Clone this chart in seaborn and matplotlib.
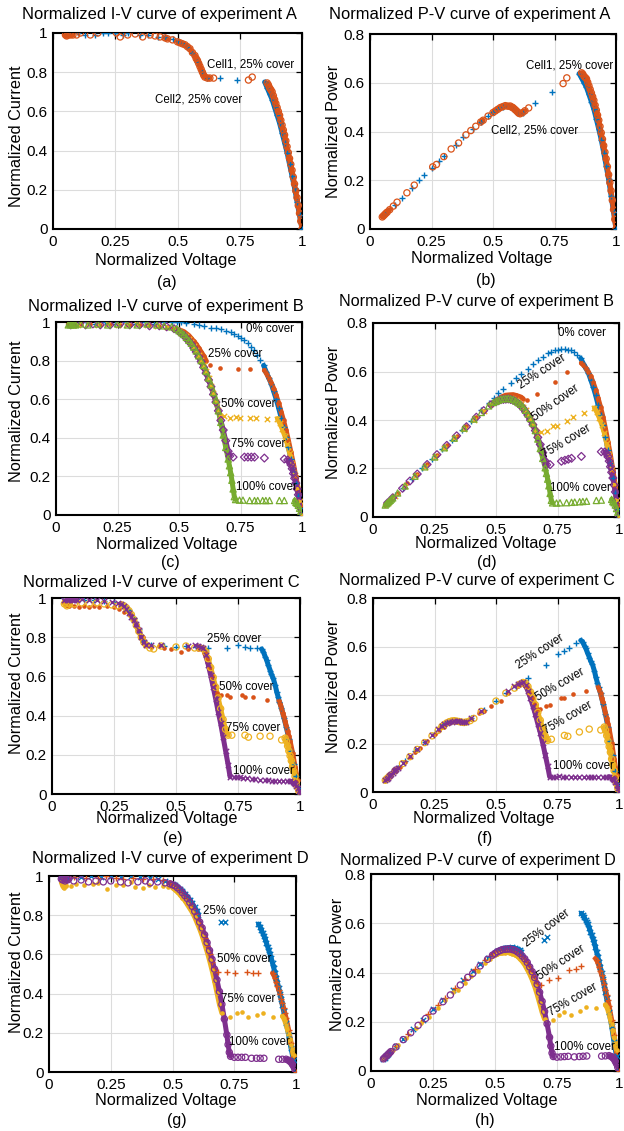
import matplotlib
matplotlib.use("Agg")
import matplotlib.pyplot as plt
import pandas as pd
import seaborn as sns

# ---------------------------------------------------------------- data
# Experiment A
A_cell1_v = [0.06, 0.10, 0.13, 0.17, 0.20, 0.22, 0.25, 0.28, 0.30, 0.35, 0.38, 0.42, 0.45, 0.48, 0.50, 0.52, 0.54, 0.56, 0.58, 0.60,
             0.62, 0.67, 0.74, 0.85, 0.86, 0.87, 0.88, 0.89, 0.90, 0.91, 0.92, 0.93, 0.94, 0.95, 0.96, 0.97, 0.98, 0.99, 1.00]
A_cell1_i = [1.00, 1.00, 0.99, 0.99, 1.00, 1.00, 1.00, 0.99, 1.00, 0.99, 0.99, 0.98, 0.98, 0.97, 0.96, 0.95, 0.93, 0.90, 0.85, 0.80,
             0.77, 0.77, 0.76, 0.75, 0.72, 0.69, 0.66, 0.62, 0.58, 0.54, 0.49, 0.44, 0.39, 0.33, 0.27, 0.21, 0.14, 0.07, 0.00]
A_cell2_v = [0.050, 0.055, 0.060, 0.065, 0.070, 0.080, 0.095, 0.110, 0.150, 0.180, 0.255, 0.270, 0.300, 0.330, 0.360, 0.390,
             0.410, 0.430, 0.450, 0.460, 0.480, 0.500, 0.510, 0.520, 0.530, 0.540, 0.550, 0.560, 0.570, 0.575, 0.580, 0.585,
             0.590, 0.595, 0.600, 0.605, 0.610, 0.620, 0.630, 0.645, 0.785, 0.800, 0.860, 0.865, 0.870, 0.875, 0.880, 0.885,
             0.890, 0.895, 0.900, 0.905, 0.910, 0.915, 0.920, 0.925, 0.930, 0.935, 0.940, 0.945, 0.950, 0.955, 0.960, 0.965,
             0.970, 0.975, 0.980, 0.985, 0.990, 0.995, 1.000]
A_cell2_i = [0.99, 0.985, 0.99, 0.995, 0.99, 0.99, 0.99, 1.00, 0.99, 1.00, 1.00, 0.98, 0.99, 0.995, 0.98, 0.99,
             0.985, 0.98, 0.975, 0.97, 0.965, 0.955, 0.95, 0.945, 0.94, 0.93, 0.92, 0.90, 0.885, 0.87, 0.86, 0.845,
             0.83, 0.815, 0.80, 0.785, 0.775, 0.77, 0.77, 0.77, 0.76, 0.775, 0.745, 0.735, 0.72, 0.71, 0.70, 0.68,
             0.66, 0.64, 0.62, 0.60, 0.58, 0.555, 0.53, 0.505, 0.48, 0.45, 0.42, 0.39, 0.36, 0.33, 0.30, 0.265,
             0.23, 0.195, 0.16, 0.12, 0.08, 0.04, 0.00]

# Experiment B
B_0_v = [0.06, 0.09, 0.12, 0.16, 0.20, 0.24, 0.28, 0.32, 0.36, 0.40, 0.44, 0.47, 0.49, 0.51, 0.53, 0.56, 0.58, 0.60, 0.63, 0.65,
         0.67, 0.69, 0.71, 0.725, 0.74, 0.753, 0.766, 0.779, 0.792, 0.805, 0.818, 0.831, 0.844, 0.855, 0.865, 0.875, 0.885,
         0.895, 0.905, 0.915, 0.925, 0.935, 0.945, 0.955, 0.965, 0.975, 0.985, 0.995, 1.0]
B_0_i = [1.00, 0.99, 1.00, 0.99, 1.00, 0.99, 1.00, 0.99, 1.00, 0.99, 1.00, 1.00, 1.00, 1.00, 0.995, 0.99, 0.985, 0.98, 0.97, 0.97,
         0.965, 0.955, 0.95, 0.94, 0.93, 0.915, 0.905, 0.89, 0.87, 0.855, 0.83, 0.805, 0.775, 0.74, 0.71, 0.68, 0.64,
         0.60, 0.555, 0.505, 0.455, 0.405, 0.35, 0.29, 0.23, 0.165, 0.10, 0.035, 0.0]
B_25_v = [0.05, 0.055, 0.06, 0.065, 0.07, 0.10, 0.14, 0.18, 0.22, 0.26, 0.30, 0.34, 0.38, 0.42, 0.45, 0.475, 0.49, 0.50, 0.51, 0.52,
          0.53, 0.54, 0.55, 0.56, 0.57, 0.58, 0.59, 0.60, 0.61, 0.624, 0.665, 0.739, 0.79, 0.847, 0.855, 0.865, 0.875, 0.885,
          0.895, 0.905, 0.915, 0.925, 0.935, 0.945, 0.955, 0.965, 0.975, 0.985, 0.995, 1.0]
B_25_i = [0.99, 0.985, 0.99, 0.99, 0.985, 0.99, 0.99, 0.985, 0.99, 0.985, 0.985, 0.985, 0.985, 0.98, 0.975, 0.97, 0.965, 0.96, 0.955, 0.95,
          0.94, 0.93, 0.915, 0.90, 0.885, 0.865, 0.845, 0.825, 0.80, 0.776, 0.76, 0.755, 0.755, 0.75, 0.735, 0.71, 0.685, 0.655,
          0.62, 0.58, 0.535, 0.49, 0.44, 0.385, 0.325, 0.265, 0.20, 0.13, 0.05, 0.0]
B_50_v = [0.06, 0.09, 0.13, 0.17, 0.21, 0.25, 0.29, 0.33, 0.37, 0.41, 0.45, 0.48, 0.50, 0.51, 0.52, 0.53, 0.54, 0.55, 0.56, 0.57,
          0.58, 0.59, 0.60, 0.61, 0.62, 0.63, 0.64, 0.65, 0.66, 0.668, 0.682, 0.706, 0.733, 0.746, 0.787, 0.814, 0.857, 0.90,
          0.91, 0.92, 0.93, 0.94, 0.95, 0.96, 0.97, 0.98, 0.99, 1.0]
B_50_i = [0.99, 0.985, 0.99, 0.985, 0.99, 0.985, 0.985, 0.99, 0.985, 0.98, 0.975, 0.97, 0.955, 0.945, 0.935, 0.925, 0.91, 0.895, 0.875, 0.855,
          0.83, 0.805, 0.775, 0.745, 0.71, 0.67, 0.63, 0.585, 0.545, 0.515, 0.514, 0.505, 0.51, 0.505, 0.505, 0.505, 0.50, 0.50,
          0.475, 0.445, 0.41, 0.37, 0.32, 0.265, 0.205, 0.14, 0.07, 0.0]
B_75_v = [0.06, 0.08, 0.12, 0.15, 0.18, 0.22, 0.26, 0.30, 0.34, 0.38, 0.42, 0.45, 0.48, 0.50, 0.51, 0.52, 0.53, 0.54, 0.55, 0.56,
          0.57, 0.58, 0.59, 0.60, 0.61, 0.62, 0.63, 0.64, 0.65, 0.66, 0.67, 0.68, 0.69, 0.70, 0.706, 0.72, 0.766, 0.78, 0.794,
          0.807, 0.847, 0.928, 0.942, 0.95, 0.955, 0.96, 0.965, 0.97, 0.975, 0.98, 0.985, 0.99, 0.995, 1.0]
B_75_i = [0.985, 0.99, 0.985, 0.99, 0.985, 0.985, 0.99, 0.985, 0.985, 0.98, 0.98, 0.975, 0.965, 0.95, 0.94, 0.93, 0.915, 0.90, 0.885, 0.865,
          0.845, 0.82, 0.795, 0.765, 0.735, 0.70, 0.665, 0.625, 0.585, 0.54, 0.49, 0.44, 0.385, 0.33, 0.305, 0.30, 0.30, 0.30, 0.30,
          0.30, 0.295, 0.29, 0.285, 0.275, 0.26, 0.24, 0.215, 0.19, 0.165, 0.135, 0.105, 0.07, 0.035, 0.0]
B_100_v = [0.05, 0.055, 0.06, 0.065, 0.07, 0.075, 0.08, 0.10, 0.13, 0.17, 0.21, 0.25, 0.29, 0.33, 0.37, 0.41, 0.44, 0.47,
           0.49, 0.50, 0.51, 0.52, 0.53, 0.54, 0.55, 0.56, 0.57, 0.58, 0.59, 0.60, 0.61, 0.62, 0.63, 0.64, 0.65, 0.66, 0.67,
           0.68, 0.69, 0.70, 0.705, 0.71, 0.715, 0.72, 0.725, 0.73, 0.746, 0.76, 0.787, 0.807, 0.82, 0.84, 0.853, 0.868,
           0.908, 0.928, 0.97, 0.975, 0.98, 0.985, 0.99, 0.995, 1.0]
B_100_i = [0.985, 0.99, 0.985, 0.99, 0.985, 0.99, 0.985, 0.99, 0.985, 0.99, 0.985, 0.99, 0.985, 0.985, 0.99, 0.985, 0.98, 0.975,
           0.965, 0.955, 0.945, 0.935, 0.92, 0.905, 0.89, 0.87, 0.85, 0.825, 0.80, 0.775, 0.745, 0.71, 0.675, 0.635, 0.595, 0.54, 0.48,
           0.415, 0.35, 0.29, 0.255, 0.22, 0.18, 0.135, 0.095, 0.08, 0.077, 0.077, 0.075, 0.075, 0.075, 0.075, 0.075, 0.075,
           0.075, 0.075, 0.075, 0.065, 0.06, 0.05, 0.035, 0.02, 0.0]

# Experiment C
C_25_v = [0.05, 0.055, 0.06, 0.065, 0.07, 0.10, 0.13, 0.17, 0.21, 0.25, 0.29, 0.31, 0.33, 0.35, 0.37, 0.40, 0.45, 0.50, 0.54, 0.58,
          0.63, 0.704, 0.751, 0.778, 0.798, 0.825, 0.845, 0.852, 0.86, 0.865, 0.872, 0.88, 0.885, 0.892, 0.90, 0.906, 0.912,
          0.917, 0.925, 0.935, 0.945, 0.955, 0.965, 0.975, 0.985, 0.995, 1.0]
C_25_i = [1.0, 0.99, 1.0, 0.99, 1.0, 0.995, 0.99, 0.99, 0.985, 0.98, 0.965, 0.94, 0.90, 0.84, 0.78, 0.76, 0.755, 0.75, 0.755, 0.75,
          0.743, 0.743, 0.76, 0.75, 0.743, 0.743, 0.74, 0.726, 0.70, 0.685, 0.658, 0.63, 0.61, 0.59, 0.555, 0.522, 0.495,
          0.471, 0.44, 0.39, 0.34, 0.28, 0.22, 0.155, 0.09, 0.03, 0.0]
C_50_v = [0.05, 0.055, 0.06, 0.065, 0.07, 0.09, 0.11, 0.13, 0.15, 0.17, 0.19, 0.22, 0.25, 0.27, 0.29, 0.31, 0.33, 0.35, 0.365, 0.38,
          0.40, 0.43, 0.45, 0.48, 0.52, 0.55, 0.59, 0.615, 0.625, 0.635, 0.645, 0.655, 0.665, 0.68, 0.704, 0.718, 0.765, 0.778,
          0.812, 0.866, 0.915, 0.92, 0.925, 0.93, 0.935, 0.94, 0.945, 0.95, 0.955, 0.96, 0.97, 0.98, 0.99, 1.0]
C_50_i = [0.98, 0.97, 0.965, 0.97, 0.96, 0.96, 0.955, 0.96, 0.955, 0.96, 0.955, 0.96, 0.955, 0.945, 0.93, 0.92, 0.89, 0.84, 0.80, 0.76,
          0.75, 0.755, 0.745, 0.74, 0.725, 0.74, 0.74, 0.72, 0.69, 0.645, 0.60, 0.555, 0.515, 0.505, 0.505, 0.497, 0.505, 0.497,
          0.497, 0.48, 0.475, 0.46, 0.44, 0.415, 0.395, 0.37, 0.345, 0.32, 0.295, 0.27, 0.21, 0.14, 0.07, 0.0]
C_75_v = [0.05, 0.055, 0.06, 0.065, 0.07, 0.09, 0.12, 0.15, 0.18, 0.21, 0.24, 0.265, 0.28, 0.29, 0.30, 0.31, 0.32, 0.33, 0.34, 0.35,
          0.36, 0.37, 0.38, 0.395, 0.41, 0.44, 0.50, 0.54, 0.575, 0.595, 0.61, 0.62, 0.63, 0.64, 0.65, 0.66, 0.67, 0.68, 0.69, 0.70,
          0.71, 0.725, 0.778, 0.792, 0.839, 0.879, 0.926, 0.94, 0.945, 0.95, 0.955, 0.96, 0.965, 0.97, 0.975, 0.98, 0.985, 0.99,
          0.995, 1.0]
C_75_i = [0.97, 0.98, 0.96, 0.975, 0.97, 0.97, 0.975, 0.97, 0.975, 0.97, 0.965, 0.96, 0.965, 0.96, 0.95, 0.935, 0.915, 0.89, 0.86, 0.83,
          0.80, 0.775, 0.76, 0.745, 0.74, 0.755, 0.75, 0.755, 0.745, 0.745, 0.74, 0.725, 0.69, 0.645, 0.595, 0.545, 0.49, 0.435, 0.38, 0.33,
          0.30, 0.30, 0.30, 0.29, 0.295, 0.295, 0.276, 0.285, 0.27, 0.245, 0.22, 0.195, 0.17, 0.14, 0.115, 0.09, 0.06, 0.035,
          0.015, 0.0]
C_100_v = [0.05, 0.055, 0.06, 0.065, 0.07, 0.075, 0.08, 0.085, 0.09, 0.095, 0.10, 0.12, 0.15, 0.18, 0.21, 0.24, 0.265, 0.28, 0.29, 0.30,
           0.31, 0.32, 0.33, 0.34, 0.35, 0.36, 0.37, 0.38, 0.40, 0.44, 0.55, 0.575, 0.59, 0.60, 0.61, 0.62, 0.63, 0.64, 0.65, 0.66,
           0.67, 0.68, 0.69, 0.70, 0.71, 0.718, 0.732, 0.745, 0.758, 0.772, 0.785, 0.805, 0.82, 0.839, 0.859, 0.872, 0.886, 0.90,
           0.914, 0.933, 0.947, 0.96, 0.97, 0.975, 0.98, 0.985, 0.99, 0.995, 1.0]
C_100_i = [0.99, 1.0, 0.99, 1.0, 0.99, 0.995, 0.99, 0.995, 0.99, 0.995, 0.99, 0.995, 0.99, 0.99, 0.985, 0.98, 0.975, 0.97, 0.96, 0.945,
           0.925, 0.905, 0.89, 0.865, 0.835, 0.80, 0.775, 0.76, 0.76, 0.76, 0.755, 0.76, 0.755, 0.75, 0.745, 0.71, 0.66, 0.605, 0.545, 0.485,
           0.42, 0.36, 0.29, 0.22, 0.15, 0.088, 0.085, 0.085, 0.085, 0.08, 0.08, 0.077, 0.075, 0.073, 0.073, 0.07, 0.068, 0.068,
           0.068, 0.068, 0.066, 0.066, 0.06, 0.055, 0.05, 0.04, 0.03, 0.015, 0.0]

# Experiment D
D_25_v = [0.05, 0.055, 0.06, 0.065, 0.07, 0.10, 0.13, 0.17, 0.21, 0.25, 0.29, 0.33, 0.37, 0.41, 0.44, 0.47, 0.50, 0.51, 0.52, 0.53,
          0.54, 0.55, 0.56, 0.57, 0.58, 0.59, 0.60, 0.605, 0.697, 0.711, 0.848, 0.855, 0.86, 0.865, 0.87, 0.875, 0.88, 0.885, 0.89,
          0.895, 0.90, 0.905, 0.91, 0.915, 0.92, 0.925, 0.93, 0.935, 0.94, 0.945, 0.95, 0.96, 0.97, 0.98, 0.99, 1.0]
D_25_i = [1.0, 0.995, 1.0, 0.995, 1.0, 1.0, 0.995, 1.0, 0.995, 1.0, 0.995, 1.0, 0.995, 0.99, 0.985, 0.975, 0.96, 0.955, 0.945, 0.935,
          0.925, 0.91, 0.895, 0.88, 0.86, 0.84, 0.82, 0.80, 0.763, 0.765, 0.755, 0.74, 0.725, 0.71, 0.695, 0.68, 0.66, 0.64, 0.62,
          0.60, 0.58, 0.555, 0.53, 0.505, 0.48, 0.455, 0.43, 0.40, 0.37, 0.34, 0.31, 0.25, 0.19, 0.12, 0.06, 0.0]
D_50_v = [0.06, 0.10, 0.15, 0.20, 0.23, 0.27, 0.30, 0.34, 0.38, 0.42, 0.46, 0.49, 0.50, 0.51, 0.52, 0.53, 0.54, 0.55, 0.56, 0.57,
          0.58, 0.59, 0.60, 0.61, 0.62, 0.63, 0.64, 0.65, 0.66, 0.67, 0.685, 0.719, 0.753, 0.80, 0.827, 0.847, 0.905, 0.91, 0.915,
          0.92, 0.925, 0.93, 0.935, 0.94, 0.945, 0.95, 0.955, 0.96, 0.97, 0.98, 0.99, 1.0]
D_50_i = [0.99, 0.995, 0.99, 0.99, 1.0, 0.99, 0.985, 0.99, 0.985, 0.985, 0.98, 0.965, 0.955, 0.945, 0.935, 0.92, 0.905, 0.89, 0.87, 0.85,
          0.83, 0.805, 0.78, 0.75, 0.72, 0.685, 0.645, 0.60, 0.56, 0.52, 0.51, 0.512, 0.503, 0.512, 0.503, 0.503, 0.505, 0.495, 0.48,
          0.46, 0.44, 0.42, 0.40, 0.375, 0.35, 0.325, 0.30, 0.275, 0.215, 0.15, 0.08, 0.0]
D_75_v = [0.05, 0.055, 0.06, 0.065, 0.07, 0.09, 0.11, 0.14, 0.18, 0.20, 0.235, 0.27, 0.30, 0.33, 0.35, 0.38, 0.405, 0.43, 0.46, 0.48,
          0.50, 0.51, 0.52, 0.53, 0.54, 0.55, 0.56, 0.57, 0.58, 0.59, 0.60, 0.61, 0.62, 0.63, 0.64, 0.65, 0.66, 0.67, 0.68, 0.69,
          0.70, 0.733, 0.76, 0.78, 0.807, 0.841, 0.868, 0.908, 0.945, 0.95, 0.955, 0.96, 0.965, 0.97, 0.975, 0.98, 0.985, 0.99]
D_75_i = [0.97, 0.95, 0.94, 0.96, 0.95, 0.95, 0.96, 0.955, 0.96, 0.965, 0.935, 0.955, 0.955, 0.97, 0.945, 0.94, 0.955, 0.945, 0.95, 0.945,
          0.94, 0.93, 0.92, 0.905, 0.89, 0.875, 0.855, 0.835, 0.815, 0.79, 0.76, 0.73, 0.695, 0.655, 0.615, 0.57, 0.52, 0.465, 0.405, 0.345,
          0.30, 0.282, 0.299, 0.308, 0.282, 0.29, 0.299, 0.282, 0.285, 0.275, 0.26, 0.24, 0.22, 0.195, 0.17, 0.14, 0.115, 0.085]
D_100_v = [0.05, 0.055, 0.06, 0.065, 0.07, 0.075, 0.08, 0.10, 0.13, 0.16, 0.19, 0.22, 0.25, 0.29, 0.32, 0.36, 0.39, 0.41, 0.44, 0.47,
           0.49, 0.50, 0.51, 0.52, 0.53, 0.54, 0.55, 0.56, 0.57, 0.58, 0.59, 0.60, 0.61, 0.62, 0.63, 0.64, 0.65, 0.66, 0.67, 0.68,
           0.69, 0.70, 0.71, 0.72, 0.725, 0.73, 0.735, 0.75, 0.765, 0.78, 0.795, 0.82, 0.84, 0.855, 0.87, 0.93, 0.945, 0.96, 0.97,
           0.975, 0.98, 0.985, 0.99, 0.995, 1.0]
D_100_i = [0.985, 0.98, 0.99, 0.975, 0.985, 0.98, 0.985, 0.975, 0.98, 0.97, 0.975, 0.97, 0.975, 0.97, 0.965, 0.97, 0.975, 0.965, 0.97, 0.965,
           0.96, 0.955, 0.95, 0.94, 0.93, 0.915, 0.90, 0.885, 0.865, 0.845, 0.82, 0.795, 0.765, 0.735, 0.70, 0.66, 0.62, 0.575, 0.525, 0.47,
           0.41, 0.345, 0.27, 0.19, 0.14, 0.10, 0.08, 0.075, 0.075, 0.075, 0.075, 0.07, 0.07, 0.07, 0.07, 0.065, 0.065, 0.065, 0.06,
           0.055, 0.05, 0.04, 0.03, 0.015, 0.0]

X_TICKS = [0, 0.25, 0.5, 0.75, 1]
X_TICK_LABELS = ["0", "0.25", "0.5", "0.75", "1"]
IV_TICKS = [0, 0.2, 0.4, 0.6, 0.8, 1]
IV_TICK_LABELS = ["0", "0.2", "0.4", "0.6", "0.8", "1"]
PV_TICKS = [0, 0.2, 0.4, 0.6, 0.8]
PV_TICK_LABELS = ["0", "0.2", "0.4", "0.6", "0.8"]

# ---------------------------------------------------------------- style
BLUE, ORANGE, YELLOW, PURPLE, GREEN = "#0072BD", "#D95319", "#EDB120", "#7E2F8E", "#77AC30"

sns.set_theme(style="white", rc={"text.color": "black", "axes.labelcolor": "black",
                                 "xtick.color": "black", "ytick.color": "black",
                                 "axes.edgecolor": "black"})
plt.rcParams["font.family"] = ["Liberation Sans", "DejaVu Sans"]

MARKERS = {
    "plus": dict(marker="+", s=24, hollow=False, lw=1.0),
    "x": dict(marker="x", s=15, hollow=False, lw=1.0),
    "circle": dict(marker="o", s=20, hollow=True, lw=0.9),
    "dot": dict(marker="o", s=11, hollow=False, lw=0.0),
    "diamond": dict(marker="D", s=16, hollow=True, lw=0.9),
    "tri": dict(marker="^", s=20, hollow=True, lw=0.9),
}
GAP = 0.012      # consecutive samples closer than this form a dense band
BAND_LW = 3.6

EXPERIMENTS = {
    "A": [(A_cell1_v, A_cell1_i, BLUE, "plus"), (A_cell2_v, A_cell2_i, ORANGE, "circle")],
    "B": [(B_0_v, B_0_i, BLUE, "plus"), (B_25_v, B_25_i, ORANGE, "dot"), (B_50_v, B_50_i, YELLOW, "x"),
          (B_75_v, B_75_i, PURPLE, "diamond"), (B_100_v, B_100_i, GREEN, "tri")],
    "C": [(C_25_v, C_25_i, BLUE, "plus"), (C_50_v, C_50_i, ORANGE, "dot"), (C_75_v, C_75_i, YELLOW, "circle"),
          (C_100_v, C_100_i, PURPLE, "x")],
    "D": [(D_25_v, D_25_i, BLUE, "x"), (D_50_v, D_50_i, ORANGE, "plus"), (D_75_v, D_75_i, YELLOW, "dot"),
          (D_100_v, D_100_i, PURPLE, "circle")],
}

# (text, x, y, rotation)  rotation 0 -> left aligned
NOTES = {
    ("A", "iv"): [("Cell1, 25% cover", 0.62, 0.84, 0), ("Cell2, 25% cover", 0.41, 0.66, 0)],
    ("A", "pv"): [("Cell1, 25% cover", 0.634, 0.669, 0), ("Cell2, 25% cover", 0.49, 0.406, 0)],
    ("B", "iv"): [("0% cover", 0.774, 0.962, 0), ("25% cover", 0.618, 0.835, 0), ("50% cover", 0.672, 0.575, 0),
                  ("75% cover", 0.712, 0.37, 0), ("100% cover", 0.733, 0.145, 0)],
    ("B", "pv"): [("0% cover", 0.75, 0.759, 0), ("25% cover", 0.686, 0.598, 33), ("50% cover", 0.742, 0.47, 35),
                  ("75% cover", 0.786, 0.313, 31), ("100% cover", 0.718, 0.12, 0)],
    ("C", "iv"): [("25% cover", 0.624, 0.79, 0), ("50% cover", 0.675, 0.547, 0), ("75% cover", 0.70, 0.338, 0),
                  ("100% cover", 0.731, 0.117, 0)],
    ("C", "pv"): [("25% cover", 0.68, 0.577, 33), ("50% cover", 0.762, 0.441, 30), ("75% cover", 0.794, 0.305, 30),
                  ("100% cover", 0.73, 0.107, 0)],
    ("D", "iv"): [("25% cover", 0.623, 0.82, 0), ("50% cover", 0.68, 0.577, 0), ("75% cover", 0.696, 0.372, 0),
                  ("100% cover", 0.73, 0.153, 0)],
    ("D", "pv"): [("25% cover", 0.71, 0.58, 37), ("50% cover", 0.766, 0.439, 33), ("75% cover", 0.815, 0.288, 30),
                  ("100% cover", 0.738, 0.097, 0)],
}

# pixel layout: axes box (left, right, top, bottom), title (left, center-y, size),
# xlabel center, ylabel center, panel letter center
W, H = 624, 1131
LAYOUT = {
    ("A", "iv"): dict(box=(53, 302, 33, 229), title=(22, 14, 11.9), xl=(166, 261), yl=(17, 136), tag=(167, 282), letter="(a)"),
    ("A", "pv"): dict(box=(370, 616, 34, 229), title=(329, 14, 11.9), xl=(482, 259), yl=(334, 131), tag=(486, 280), letter="(b)"),
    ("B", "iv"): dict(box=(56, 302, 322, 515), title=(28, 306, 11.9), xl=(167, 544), yl=(17, 411), tag=(170, 563), letter="(c)"),
    ("B", "pv"): dict(box=(373, 619, 323, 517), title=(339, 302, 11.6), xl=(486, 544), yl=(334, 412), tag=(487, 563), letter="(d)"),
    ("C", "iv"): dict(box=(52, 300, 598, 794), title=(23, 583, 11.9), xl=(167, 819), yl=(17, 683), tag=(173, 838), letter="(e)"),
    ("C", "pv"): dict(box=(373, 619, 598, 792), title=(339, 581, 11.6), xl=(484, 819), yl=(334, 686), tag=(485, 839), letter="(f)"),
    ("D", "iv"): dict(box=(49, 296, 876, 1072), title=(32, 858, 11.9), xl=(166, 1101), yl=(17, 962), tag=(177, 1120), letter="(g)"),
    ("D", "pv"): dict(box=(371, 619, 874, 1071), title=(340, 860, 11.6), xl=(487, 1101), yl=(337, 964), tag=(485, 1120), letter="(h)"),
}

fig = plt.figure(figsize=(W / 100, H / 100), dpi=100)


def draw_series(ax, v, y, color, style):
    df = pd.DataFrame({"v": v, "y": y})
    df["seg"] = (df["v"].diff().abs() > GAP).cumsum()
    size = df.groupby("seg")["v"].transform("size")
    dense = df[size > 1]
    if len(dense):
        sns.lineplot(data=dense, x="v", y="y", units="seg", estimator=None, sort=False, color=color,
                     linewidth=BAND_LW, ax=ax, legend=False, solid_capstyle="round", zorder=2)
    m = MARKERS[style]
    if m["hollow"]:
        sns.scatterplot(data=df, x="v", y="y", ax=ax, marker=m["marker"], s=m["s"], color=color,
                        facecolor="none", edgecolor=color, linewidth=m["lw"], legend=False, zorder=3)
    elif style == "dot":
        sns.scatterplot(data=df, x="v", y="y", ax=ax, marker="o", s=m["s"], color=color,
                        edgecolor=color, linewidth=0, legend=False, zorder=3)
    else:
        sns.scatterplot(data=df, x="v", y="y", ax=ax, marker=m["marker"], s=m["s"], color=color,
                        linewidth=m["lw"], legend=False, zorder=3)


for (exp, kind), lay in LAYOUT.items():
    l, r, t, b = lay["box"]
    ax = fig.add_axes([l / W, 1 - b / H, (r - l) / W, (b - t) / H])
    for v, i, color, style in EXPERIMENTS[exp]:
        yvals = i if kind == "iv" else [a * c for a, c in zip(v, i)]   # power = voltage x current
        draw_series(ax, v, yvals, color, style)

    ymax = 1.0 if kind == "iv" else 0.8
    ax.set_xlim(0, 1)
    ax.set_ylim(0, ymax)
    ax.set_xticks(X_TICKS)
    ax.set_xticklabels(X_TICK_LABELS)
    if kind == "iv":
        ax.set_yticks(IV_TICKS)
        ax.set_yticklabels(IV_TICK_LABELS)
    else:
        ax.set_yticks(PV_TICKS)
        ax.set_yticklabels(PV_TICK_LABELS)
    ax.grid(True, color="#dcdcdc", linewidth=0.8)
    ax.set_axisbelow(True)
    ax.tick_params(direction="in", top=True, right=True, length=4, width=0.9, labelsize=11)
    ax.tick_params(axis="x", pad=4)
    ax.tick_params(axis="y", pad=4)
    for sp in ax.spines.values():
        sp.set_linewidth(1.5)
        sp.set_color("black")

    # axis labels
    ax.set_xlabel("Normalized Voltage", fontsize=11.7)
    ax.set_ylabel("Normalized Current" if kind == "iv" else "Normalized Power", fontsize=11.7)
    xl_x, xl_y = lay["xl"]
    ax.xaxis.set_label_coords((xl_x - l) / (r - l), -(xl_y - b) / (b - t))
    ax.xaxis.label.set_va("center")
    yl_x, yl_y = lay["yl"]
    ax.yaxis.set_label_coords(-(l - yl_x) / (r - l), (b - yl_y) / (b - t))
    ax.yaxis.label.set_va("center")

    # in-plot annotations
    for text, x, y, rot in NOTES[(exp, kind)]:
        if rot:
            ax.text(x, y, text, fontsize=8.3, rotation=rot, rotation_mode="anchor",
                    ha="center", va="center", zorder=5)
        else:
            ax.text(x, y, text, fontsize=8.3, ha="left", va="center", zorder=5)

    # title and panel letter
    tx, ty, tsize = lay["title"]
    what = "I-V" if kind == "iv" else "P-V"
    fig.text(tx / W, 1 - ty / H, f"Normalized {what} curve of experiment {exp}", fontsize=tsize,
             ha="left", va="center")
    gx, gy = lay["tag"]
    fig.text(gx / W, 1 - gy / H, lay["letter"], fontsize=11.5, ha="center", va="center")

fig.savefig("out.png", dpi=100)
